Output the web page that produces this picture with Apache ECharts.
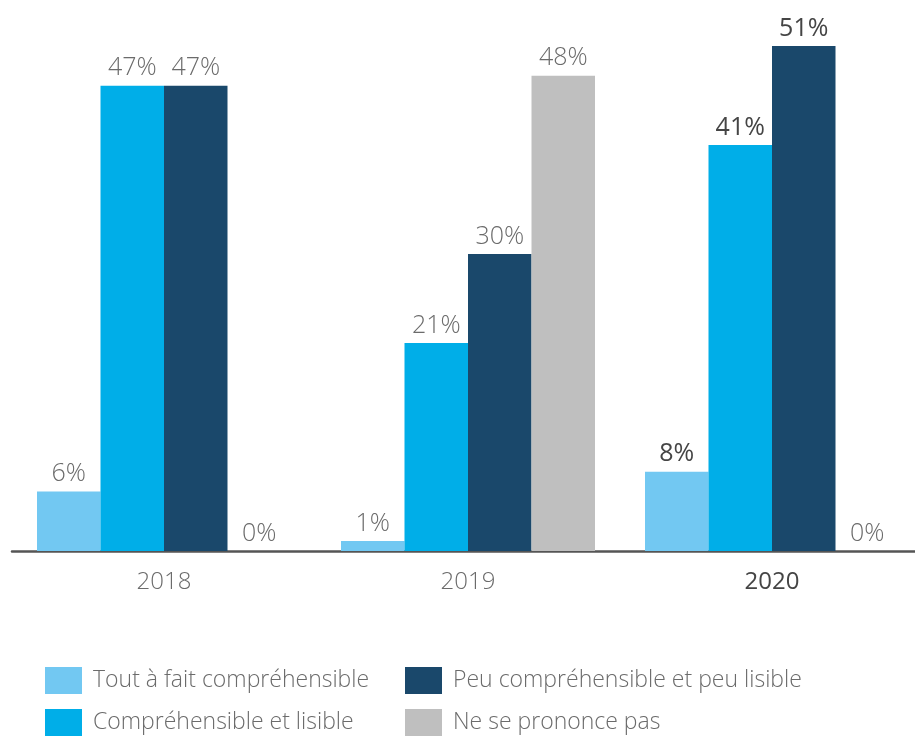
<!DOCTYPE html>
<html>
<head>
<meta charset="utf-8">
<script src="https://cdn.jsdelivr.net/npm/echarts@6/dist/echarts.min.js"></script>
<style>
  html, body { margin: 0; padding: 0; background: #fff; }
  #chart { width: 915px; height: 738px; }
</style>
</head>
<body>
<div id="chart"></div>
<script>
  const years = ['2018', '2019', '2020'];
  const seriesNames = [
    'Tout à fait compréhensible',
    'Compréhensible et lisible',
    'Peu compréhensible et peu lisible',
    'Ne se prononce pas'
  ];
  const toutAFait = [6, 1, 8];
  const comprehensible = [47, 21, 41];
  const peuComprehensible = [47, 30, 51];
  const neSePrononce = [0, 48, 0];

  const colors = ['#72C8F2', '#00AEE8', '#1A486B', '#BFBFBF'];
  const font = "'Open Sans', 'Noto Sans', sans-serif";
  const grey = '#6b6b6b';
  const dark = '#454545';

  // 2020 labels are darker in the reference
  function withLabels(values) {
    return values.map((v, i) => i === 2 && v > 0
      ? { value: v, label: { color: dark, fontWeight: 400 } }
      : v);
  }

  const legendText = { fontFamily: font, fontWeight: 300, fontSize: 23, color: grey, padding: [4, 0, 0, 6] };

  const chart = echarts.init(document.getElementById('chart'));
  chart.setOption({
    animation: false,
    color: colors,
    grid: { left: 12, top: 6.5, width: 912, height: 544.5, outerBoundsMode: 'none', containLabel: false },
    legend: [{
      data: seriesNames.slice(0, 2),
      orient: 'vertical',
      left: 45, top: 667, height: 80, padding: 0,
      itemWidth: 37, itemHeight: 27, itemGap: 15,
      icon: 'rect',
      textStyle: legendText
    }, {
      data: seriesNames.slice(2),
      orient: 'vertical',
      left: 405, top: 667, height: 80, padding: 0,
      itemWidth: 37, itemHeight: 27, itemGap: 15,
      icon: 'rect',
      textStyle: legendText
    }],
    xAxis: {
      type: 'category',
      data: years,
      axisTick: { show: false },
      axisLine: { lineStyle: { color: '#555', width: 2.5 } },
      axisLabel: {
        margin: 19,
        fontFamily: font, fontWeight: 300, fontSize: 24, color: grey,
        formatter: v => v === '2020' ? '{b|' + v + '}' : v,
        rich: { b: { fontFamily: font, fontWeight: 400, fontSize: 24, color: dark } }
      }
    },
    yAxis: { type: 'value', min: 0, max: 55, show: false },
    series: [toutAFait, comprehensible, peuComprehensible, neSePrononce].map((vals, k) => ({
      name: seriesNames[k],
      type: 'bar',
      barWidth: 63.5,
      barGap: '0%',
      clip: false,
      data: withLabels(vals),
      label: {
        show: true,
        position: 'top',
        distance: 5,
        formatter: '{c}%',
        fontFamily: font, fontWeight: 300, fontSize: 25, color: grey
      }
    }))
  });
</script>
</body>
</html>
